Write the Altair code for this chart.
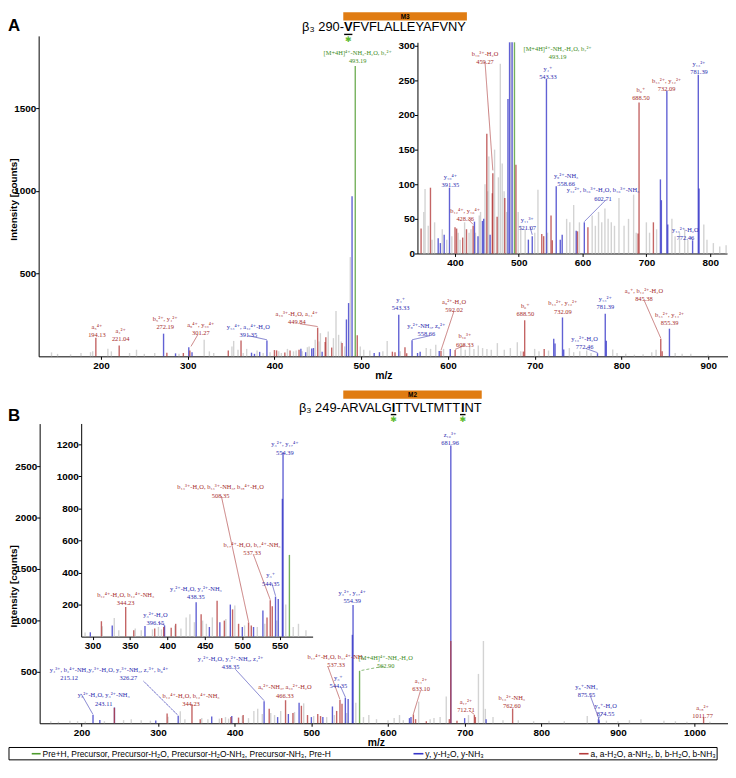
import altair as alt
import pandas as pd

# ================= Panel A : beta3 290-VFVFLALLEYAFVNY =================
A_precursor = [(493.19, 1755)]
A_y_ions = [
    (272.19, 137), (286, 18), (301.27, 55), (305, 25), (373.6, 22), (377, 15), (383, 27),
    (391.35, 95), (430.5, 46), (436, 25), (443, 47), (445, 50), (455, 27), (483, 223),
    (485.5, 322), (489.5, 967), (515, 20), (521.07, 25), (543.33, 252), (558.66, 97),
    (565, 20), (568, 27), (590, 33), (602.71, 45), (722, 107), (723.5, 77), (732.09, 235),
    (733.5, 42), (772.46, 19), (781.39, 258), (782.6, 94), (855.39, 167)]
A_ab_ions = [
    (194.13, 113), (221.04, 66), (276, 22), (295, 20), (302.5, 35), (346.8, 36), (361.5, 95),
    (400, 38), (402.5, 36), (412, 23), (418, 35), (428.36, 40), (449.84, 173), (458.5, 87),
    (459.27, 116), (466, 53), (478, 80), (495.5, 128), (536, 28), (539, 25), (550.5, 55),
    (552.5, 19), (592.02, 32), (608.33, 38), (687, 29), (688.50, 218), (711, 45),
    (845.38, 107), (847, 30)]
A_other = [
    (143, 24), (150, 15), (165, 12), (177, 20), (188, 25), (190.5, 30), (208, 46), (212, 30),
    (233, 20), (241, 40), (250, 15), (262, 20), (290, 15), (319, 100), (325, 30), (330, 20),
    (351, 60), (353, 93), (358, 40), (364, 20), (368, 45), (380, 35), (387, 20), (395, 25),
    (405, 30), (408, 20), (415, 45), (422, 30), (425, 35), (432, 30), (438, 55), (440, 60),
    (447, 100), (451.5, 90), (453, 140), (462, 150), (468, 110), (471, 274), (474, 130),
    (477, 90), (481, 60), (487.5, 600), (499, 60), (503, 40), (510, 35), (525, 30), (530, 92),
    (545, 30), (575, 50), (580, 45), (586, 70), (595, 45), (615, 55), (620, 40), (625, 60),
    (630, 45), (635, 65), (640, 50), (645, 45), (650, 40), (657, 80), (665, 40), (672, 50),
    (680, 85), (684, 30), (700, 45), (705, 30), (716, 35), (740, 50), (745, 25), (752, 30),
    (760, 35), (765, 20), (790, 42), (795, 20), (805, 15), (815, 10), (825, 12), (835, 25),
    (840, 40), (862, 20), (870, 15), (880, 15), (900, 10)]

# (ion, m/z text, class, label m/z, label intensity, leader (m/z, int, m/z, int) or None)
A_labels = [
    ("a₅⁴⁺", "194.13", "ab", 195.4, 176, None),
    ("a₄²⁺", "221.04", "ab", 222.8, 152, None),
    ("b₅²⁺, y₄²⁺", "272.19", "ab", 274.1, 224, None),
    ("a₉⁴⁺, y₁₀⁴⁺", "301.27", "ab", 315.2, 191, (311.7, 131, 303.8, 60)),
    ("y₁₃⁴⁺, a₁₂⁴⁺-H₂O", "391.35", "y", 369.9, 179, (369.9, 125, 391.35, 100)),
    ("a₁₀³⁺-H₂O, a₁₄⁴⁺", "449.84", "ab", 425.8, 254, (429.2, 197, 449.84, 180)),
    ("[M+4H]⁴⁺-NH₃-H₂O, b₇²⁺", "493.19", "pre", 496, 1835, None),
    ("y₄⁺", "543.33", "y", 545.5, 341, None),
    ("y₉²⁺-NH₃, z₉²⁺", "558.66", "y", 575.1, 182, (579.4, 125, 558.66, 100)),
    ("a₉²⁺-H₂O", "592.02", "ab", 607.1, 329, (607.1, 275, 592.02, 36)),
    ("b₁₆³⁺", "608.33", "ab", 619.6, 120, (619.3, 66, 608.33, 42)),
    ("b₆⁺", "688.50", "ab", 689.2, 305, None),
    ("b₁₃²⁺, y₁₂²⁺", "732.09", "ab", 732.5, 320, None),
    ("y₁₃²⁺", "781.39", "y", 781.5, 347, None),
    ("y₁₃²⁺-H₂O", "772.46", "y", 757.6, 105, (758.7, 48, 772.46, 22)),
    ("a₆⁺, b₁₂²⁺-H₂O", "845.38", "ab", 826, 394, (826, 341, 845.38, 110)),
    ("b₁₃²⁺, y₁₄²⁺", "855.39", "ab", 855.6, 251, None),
]
A_inset_labels = [
    ("b₁₀³⁺-H₂O", "459.27", "ab", 447, 288, (447, 277, 459.27, 120)),
    ("[M+4H]⁴⁺-NH₃-H₂O, b₇²⁺", "493.19", "pre", 560.8, 295, None),
    ("y₄⁺", "543.33", "y", 545.7, 267, None),
    ("b₆⁺", "688.50", "ab", 691.5, 236, None),
    ("b₁₃²⁺, y₁₂²⁺", "732.09", "ab", 731.8, 249, None),
    ("y₁₃²⁺", "781.39", "y", 782.5, 274, None),
    ("y₁₀⁴⁺", "391.35", "y", 392.7, 111, None),
    ("b₁₂⁴⁺, y₁₆⁴⁺", "428.36", "ab", 416, 62, (420, 50, 428.36, 42)),
    ("y₁₁³⁺", "521.07", "y", 513.2, 49, (517.3, 39, 521.07, 27)),
    ("y₉²⁺-NH₃", "558.66", "y", 574.1, 112, None),
    ("y₁₂²⁺, b₁₆³⁺-H₂O, b₁₆³⁺-NH₃", "602.71", "y", 632, 91, (637.2, 78, 602.71, 46)),
    ("y₁₃²⁺-H₂O", "772.46", "y", 761.2, 34, (769, 24, 772.46, 20)),
]

# ================= Panel B : beta3 249-ARVALGITTVLTMTTINT =================
B_precursor = [(562.90, 510)]
B_y_ions = [
    (215.12, 80), (224, 32), (243.11, 154), (297, 27), (326.27, 70), (370, 66), (396.15, 70),
    (438.35, 215), (456, 60), (470, 90), (484, 200), (500, 60), (515, 60), (527.5, 163),
    (544.35, 250), (548, 235), (553.5, 860), (554.39, 1150), (628, 50), (630, 60),
    (681.96, 2700), (700, 50), (728, 40), (874.55, 40), (875.55, 30)]
B_ab_ions = [
    (243.0, 150), (311.8, 96), (344.23, 185), (355, 40), (383, 50), (395, 60), (405, 55),
    (411, 80), (445, 140), (466.33, 224), (476, 100), (487, 170), (495, 80), (508.35, 89),
    (512, 70), (533, 120), (537.33, 227), (540, 190), (633.10, 87), (636, 40), (650, 20),
    (680, 40), (681.96, 800), (690, 25), (712.71, 80), (714, 60), (762.60, 143),
    (1011.77, 58)]
B_other = [
    (160, 20), (170, 15), (185, 25), (195, 20), (205, 18), (230, 20), (255, 30), (265, 40),
    (278, 30), (290, 25), (313, 64), (329, 116), (335, 40), (357, 50), (365, 40), (380, 45),
    (388, 60), (392, 45), (410, 70), (418, 50), (425, 120), (430, 140), (436, 90), (447, 100),
    (452, 80), (460, 120), (478, 110), (490, 194), (503, 70), (520, 60), (530, 80), (546, 100),
    (558, 200), (568, 60), (575, 80), (585, 40), (600, 30), (608, 50), (615, 80), (620, 30),
    (640, 210), (655, 40), (660, 50), (668, 60), (676, 260), (705, 80), (718, 480), (724.5, 800),
    (727, 140), (737, 60), (750, 30), (770, 30), (790, 20), (810, 25), (830, 20), (860, 70),
    (885, 25), (900, 20), (915, 30), (930, 40), (960, 25), (975, 20), (990, 15), (1020, 15)]

B_labels = [
    ("y₄³⁺, b₂⁴⁺-NH₃", "215.12", "y", 183.9, 519, (199.7, 286, 215.12, 85)),
    ("y₃²⁺-H₂O, y₃²⁺-NH₃", "243.11", "y", 229, 271, None),
    ("y₇³⁺-H₂O, y₇³⁺-NH₃, z₇³⁺, b₆⁴⁺", "326.27", "y", 261.3, 519, (281, 410, 326.27, 75)),
    ("b₁₂⁴⁺-H₂O, b₁₂⁴⁺-NH₃", "344.23", "ab", 343, 265, None),
    ("y₄²⁺-H₂O, y₄²⁺-NH₃, z₄²⁺", "438.35", "y", 394.6, 624, (401, 524, 438.35, 220)),
    ("a₅²⁺-NH₃, a₁₀²⁺-H₂O", "466.33", "ab", 465.5, 348, None),
    ("b₁₇⁴⁺-H₂O, b₁₇⁴⁺-NH₃", "537.33", "ab", 532.3, 643, (521.4, 555, 537.33, 230)),
    ("y₃⁺", "544.35", "y", 535.2, 443, (537.8, 362, 544.35, 255)),
    ("y₃²⁺, y₁₇⁴⁺", "554.39", "y", 553.3, 1271, None),
    ("[M+4H]⁴⁺-NH₃-H₂O", "562.90", "pre", 597, 633, (594.6, 555, 562.9, 510)),
    ("a₁₁²⁺", "633.10", "ab", 643.2, 414, (642.3, 314, 633.1, 90)),
    ("z₁₆³⁺", "681.96", "y", 681, 2800, None),
    ("a₁₇²⁺", "712.71", "ab", 701.7, 205, (706, 124, 712.71, 85)),
    ("b₁₃²⁺-NH₃", "762.60", "ab", 761.5, 248, None),
    ("y₈⁺-NH₃", "875.55", "y", 859, 357, (863, 286, 875.55, 35)),
    ("y₈⁺-H₂O", "874.55", "y", 884, 167, (880, 100, 874.55, 45)),
    ("a₁₈²⁺", "1011.77", "ab", 1010.4, 148, None),
]
B_inset_labels = [
    ("y₃²⁺, y₁₇⁴⁺", "554.39", "y", 556.9, 1199, None),
    ("b₁₃³⁺-H₂O, b₁₃³⁺-NH₃, b₁₈⁴⁺-H₂O", "508.35", "ab", 471, 931, (472, 877, 508.35, 92)),
    ("b₁₇⁴⁺-H₂O, b₁₇⁴⁺-NH₃", "537.33", "ab", 513, 572, (515, 510, 537.33, 230)),
    ("y₃⁺", "544.35", "y", 538, 382, (539.3, 336, 544.35, 255)),
    ("y₄²⁺-H₂O, y₄²⁺-NH₃", "438.35", "y", 438, 300, None),
    ("b₁₂⁴⁺-H₂O, b₁₂⁴⁺-NH₃", "344.23", "ab", 344.2, 262, None),
    ("y₃²⁺-H₂O", "396.15", "y", 383.9, 135, (387.4, 89, 396.15, 72)),
]

# ================= axes =================
A_x_ticks = [200, 300, 400, 500, 600, 700, 800, 900]
A_y_ticks = [500, 1000, 1500]
A_inset_x_ticks = [400, 500, 600, 700, 800]
A_inset_y_ticks = [0, 50, 100, 150, 200, 250, 300]
B_x_ticks = [200, 300, 400, 500, 600, 700, 800, 900, 1000]
B_y_ticks = [500, 1000, 1500, 2000, 2500]
B_inset_x_ticks = [300, 350, 400, 450, 500, 550]
B_inset_y_ticks = [200, 400, 600, 800, 1000, 1200]

A_xdom, A_ydom = [128.2, 922.9], [0, 1937]
Ai_xdom, Ai_ydom = [341.1, 826.4], [0, 305]
B_xdom, B_ydom = [145.5, 1043.6], [0, 2914]
Bi_xdom, Bi_ydom = [284.8, 593.9], [0, 1330]

legend_items = [
    ("pre", "Pre+H, Precursor, Precursor-H₂O, Precursor-H₂O-NH₃, Precursor-NH₃, Pre-H"),
    ("y", "y, y-H₂O, y-NH₃"),
    ("ab", "a, a-H₂O, a-NH₂, b, b-H₂O, b-NH₃"),
]

# ================= styles / layout =================
W, H = 728, 757
SANS = "Liberation Sans, Arial, sans-serif"
SERIF = "Liberation Serif, DejaVu Serif, serif"
PEAK_COLOR = {"pre": "#4e9b2d", "y": "#3535c8", "ab": "#b43a3a", "other": "#c6c6c6"}
TEXT_COLOR = {"pre": "#3d8c22", "y": "#2a2aae", "ab": "#a52a2a"}
ORANGE = "#e07c12"
STAR = "#5dbb2f"
LAY = {  # pixel ranges of each plotting frame inside the chart
    "A": ([31, 728], [348, 24]),
    "Ai": ([414, 727], [244, 30.5]),
    "B": ([32, 728], [719, 416]),
    "Bi": ([74, 308], [631.4, 415.9]),
}


def peak_frame(groups):
    rows = []
    for cls, pts in groups:
        for mz, inten in pts:
            rows.append({"mz": mz, "inten": inten, "col": PEAK_COLOR[cls]})
    return pd.DataFrame(rows)


def label_frames(labels):
    rows, leads = [], []
    for ion, val, cls, lx, ly, lead in labels:
        rows.append({"txt": ion + "\n" + val, "lx": lx, "ly": ly, "col": TEXT_COLOR[cls]})
        if lead is not None:
            leads.append({"x1": lead[0], "y1": lead[1], "x2": lead[2], "y2": lead[3],
                          "col": TEXT_COLOR[cls], "dash": cls == "pre"})
    return pd.DataFrame(rows), pd.DataFrame(leads)


AX = dict(grid=False, format="d", domainColor="black", domainWidth=1, tickColor="black",
          tickSize=3, tickWidth=1, labelFont=SANS, labelFontSize=10, labelFontWeight="bold",
          labelColor="black", labelOverlap=False, titleFont=SANS,
          titleFontWeight="bold", titleColor="black")


def x_axis(values, key, title="", **kw):
    return alt.Axis(values=values, orient="bottom", offset=LAY[key][1][0] - H, title=title,
                    labelPadding=1, labelFlush=False, titlePadding=0, titleFontSize=10.5,
                    **AX, **kw)


def y_axis(values, key, title="", title_y=None):
    extra = {}
    if title:
        extra = dict(titleX=1 - LAY[key][0][0], titleY=title_y, titleBaseline="top",
                     titleAlign="center")
    return alt.Axis(values=values, orient="left", offset=-LAY[key][0][0], title=title,
                    labelPadding=0, titleFontSize=10, **AX, **extra)


def panel(peaks, labels, key, xdom, ydom, xaxis, yaxis, inset=False):
    xr, yr = LAY[key]
    xs = alt.Scale(domain=xdom, range=xr)
    ys = alt.Scale(domain=ydom, range=yr, clamp=True)
    base = alt.Chart(peaks)
    if inset:
        base = base.transform_filter(alt.FieldRangePredicate(field="mz", range=xdom))
    rules = base.mark_rule(strokeWidth=1.4, opacity=0.78).encode(
        x=alt.X("mz:Q", scale=xs, axis=xaxis),
        y=alt.Y("inten:Q", scale=ys, axis=yaxis),
        y2=alt.datum(0),
        color=alt.Color("col:N", scale=None),
    )
    lab, lead = label_frames(labels)
    layers = [rules]
    if len(lead):
        layers.append(alt.Chart(lead).mark_rule(strokeWidth=0.6).encode(
            x=alt.X("x1:Q", scale=xs, axis=xaxis),
            y=alt.Y("y1:Q", scale=ys, axis=yaxis),
            x2="x2:Q", y2="y2:Q",
            color=alt.Color("col:N", scale=None),
            strokeDash=alt.condition("datum.dash", alt.value([3, 2]), alt.value([1, 0])),
        ))
    layers.append(alt.Chart(lab).mark_text(
        font=SERIF, fontSize=6.5, lineBreak="\n", lineHeight=8.3, baseline="middle",
        align="center").encode(
        x=alt.X("lx:Q", scale=xs, axis=xaxis),
        y=alt.Y("ly:Q", scale=ys, axis=yaxis),
        text="txt:N", color=alt.Color("col:N", scale=None)))
    return alt.layer(*layers)


# drawing order: unassigned, y-type, a/b-type (overlaps turn purple), precursor
A_peaks = peak_frame([("other", A_other), ("y", A_y_ions), ("ab", A_ab_ions), ("pre", A_precursor)])
B_peaks = peak_frame([("other", B_other), ("y", B_y_ions), ("ab", B_ab_ions), ("pre", B_precursor)])

pA = panel(A_peaks, A_labels, "A", A_xdom, A_ydom,
           x_axis(A_x_ticks, "A", "m/z"), y_axis(A_y_ticks, "A", "Intensity [counts]", 189))
pAi = panel(A_peaks, A_inset_labels, "Ai", Ai_xdom, Ai_ydom,
            x_axis(A_inset_x_ticks, "Ai"), y_axis(A_inset_y_ticks, "Ai"), inset=True)
pB = panel(B_peaks, B_labels, "B", B_xdom, B_ydom,
           x_axis(B_x_ticks, "B", "m/z", titleX=372), y_axis(B_y_ticks, "B", "Intensity [counts]", 580))
pBi = panel(B_peaks, B_inset_labels, "Bi", Bi_xdom, Bi_ydom,
            x_axis(B_inset_x_ticks, "Bi"), y_axis(B_inset_y_ticks, "Bi"), inset=True)


# ================= decorations (pixel placed) =================
def ptext(rows, **kw):
    df = pd.DataFrame(rows, columns=["px", "py", "t"])
    return alt.Chart(df).mark_text(**kw).encode(
        x=alt.X("px:Q", scale=None), y=alt.Y("py:Q", scale=None), text="t:N")


def prect(rows, **kw):
    df = pd.DataFrame(rows, columns=["x1", "x2", "y1", "y2"])
    return alt.Chart(df).mark_rect(**kw).encode(
        x=alt.X("x1:Q", scale=None), x2="x2:Q", y=alt.Y("y1:Q", scale=None), y2="y2:Q")


seq_kw = dict(font=SANS, fontSize=13, color="black", baseline="alphabetic")
deco = [
    ptext([(0, 14, "A"), (0, 408, "B")], font=SANS, fontSize=17, fontWeight="bold",
          align="left", color="black"),
    prect([(339, 464, 0, 8.5), (339, 479, 382.5, 391)], color=ORANGE),
    ptext([(401.5, 4.5, "M3"), (409, 387, "M2")], font=SANS, fontSize=6.5, fontWeight="bold",
          align="center", baseline="middle", color="black"),
    ptext([(339.7, 19.5, "β₃ 290-"), (388.0, 404, "β₃ 249-ARVALG")], align="right", **seq_kw),
    ptext([(348.4, 19.5, "FVFLALLEYAFVNY"), (391.6, 404, "TTVLTMTT"), (461.6, 404, "NT")],
          align="left", **seq_kw),
    ptext([(339.7, 19.5, "V"), (388.0, 404, "I"), (458.0, 404, "I")], align="left",
          fontWeight="bold", **seq_kw),
    prect([(339.9, 348.2, 21.8, 23.2), (387.0, 392.6, 406.2, 407.6), (457.0, 462.6, 406.2, 407.6)],
          color="black"),
    ptext([(344, 28, "✱"), (389.8, 412.5, "✱"), (459.8, 412.5, "✱")], font="DejaVu Sans",
          fontSize=8, align="center", baseline="middle", color=STAR),
    prect([(1, 717, 743.5, 756)], fill="white", stroke="black", strokeWidth=1),
]
leg_x = {"pre": (24, 33, 35), "y": (410, 420, 422), "ab": (577.5, 587, 589)}
for cls, txt in legend_items:
    a, b, t = leg_x[cls]
    deco.append(alt.Chart(pd.DataFrame({"x1": [a], "x2": [b], "y": [749.8]})).mark_rule(
        strokeWidth=1.6, color=PEAK_COLOR[cls]).encode(
        x=alt.X("x1:Q", scale=None), x2="x2:Q", y=alt.Y("y:Q", scale=None)))
    deco.append(ptext([(t, 750, txt)], font=SANS, fontSize=8.5, align="left",
                      baseline="middle", color="black"))

chart = alt.layer(pA, pAi, pB, pBi, *deco).resolve_scale(
    x="independent", y="independent").resolve_axis(
    x="independent", y="independent").properties(
    width=W, height=H, autosize=alt.AutoSizeParams(type="none"), padding=0,
    background="white").configure_view(strokeWidth=0)

chart.save("out.html", embed_options={"renderer": "svg", "actions": False})
